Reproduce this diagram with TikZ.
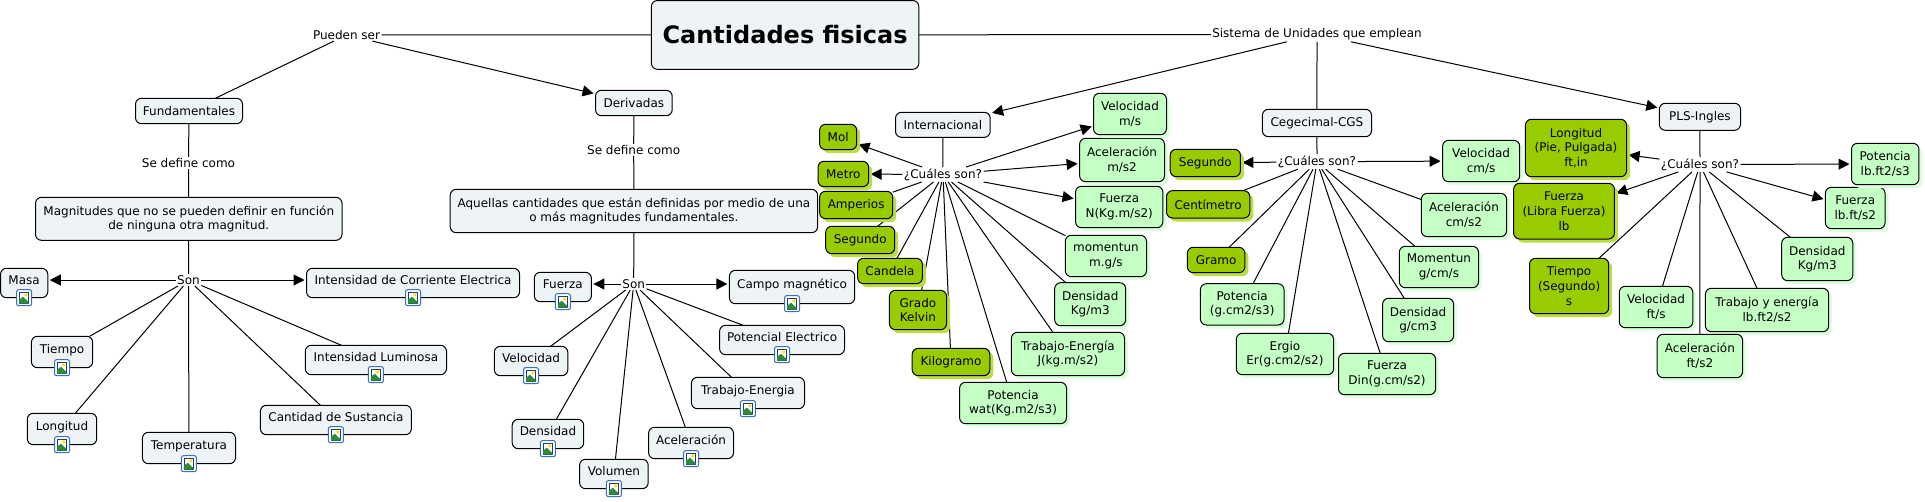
\documentclass[tikz,border=0pt]{standalone}
\usepackage{fontspec}
\setmainfont{DejaVu Sans}
\usetikzlibrary{arrows.meta,shadows}
\pgfdeclarelayer{bg}
\pgfsetlayers{bg,main}
\definecolor{boxfill}{HTML}{EEF4F6}
\definecolor{greenfill}{HTML}{C4FFC4}
\definecolor{greenshadow}{HTML}{DDFFDD}
\definecolor{olivefill}{HTML}{99CC00}
\definecolor{oliveshadow}{HTML}{BBDD44}
\definecolor{iconblue}{HTML}{3A6FC4}
\definecolor{iconsky}{HTML}{1F3A7A}
\definecolor{iconhill}{HTML}{2E8B3A}
\tikzset{
  base/.style={draw=black,line width=1pt,rounded corners=6pt,inner sep=0pt,outer sep=0pt,align=center,
    font=\fontsize{12}{14.6}\selectfont,text=black},
  plain/.style={base,fill=boxfill},
  withicon/.style={base,fill=boxfill,text depth=5.5pt,text height=8.5pt},
  title/.style={base,fill=boxfill,font=\fontsize{24}{28}\selectfont\bfseries},
  gbox/.style={base,fill=greenfill,copy shadow={shadow xshift=3.5pt,shadow yshift=-3.5pt,draw=none,fill=greenshadow}},
  obox/.style={base,fill=olivefill,copy shadow={shadow xshift=3.5pt,shadow yshift=-3.5pt,draw=none,fill=oliveshadow}},
  lab/.style={inner sep=1.5pt,outer sep=0pt,align=center,font=\fontsize{12}{14.6}\selectfont,text=black},
  link/.style={draw=black,line width=1pt},
  arrowlink/.style={link,-{Triangle[length=11pt,width=11pt]},shorten >=2pt},
  imgicon/.pic={
    \draw[draw=iconblue,fill=white,line width=1pt,rounded corners=2pt] (-7.5,-8) rectangle (7.5,8);
    \fill[iconsky] (-5,-6) rectangle (5,6);
    \fill[white] (-4,-5) rectangle (4,3);
    \fill[yellow!85!orange] (1.8,-2.8) circle (1.8);
    \fill[iconhill] (-5,6) -- (-5,2) -- (-1,-1) -- (5,5) -- (5,6) -- cycle;
  }
}
\newcommand\bx[7]{%
  \pgfmathsetmacro\cx{(#3+#5)/2}\pgfmathsetmacro\cy{(#4+#6)/2}%
  \pgfmathsetmacro\bw{#5-#3}\pgfmathsetmacro\bh{#6-#4}%
  \node[#1,minimum width=\bw pt,minimum height=\bh pt] (#2) at (\cx,\cy) {#7};}
\newcommand\ibx[6]{\bx{withicon}{#1}{#2}{#3}{#4}{#5}{#6}\pic at (#1.south) {imgicon};}
\begin{document}
\begin{tikzpicture}[x=1pt,y=-1pt]
\useasboundingbox (0,0) rectangle (1925,501);
% centre
\bx{title}{root}{651.4}{0.5}{918.8}{69.3}{Cantidades fisicas}
\node[lab] (pueden) at (346.5,35) {Pueden ser};
\node[lab] (sistema) at (1317,34.5) {Sistema de Unidades que emplean};
% left branch
\bx{plain}{fund}{135.5}{98.3}{242.5}{123.7}{Fundamentales}
\node[lab] (def1) at (188.5,163) {Se define como};
\bx{plain}{magn}{35.5}{197.3}{342}{240.3}{Magnitudes que no se pueden definir en función\\de ninguna otra magnitud.}
\node[lab] (son1) at (188.5,280) {Son};
\ibx{masa}{0.5}{268.3}{47.8}{297.7}{Masa}
\ibx{corr}{306.5}{268.3}{519.6}{297.7}{Intensidad de Corriente Electrica}
\ibx{tiem}{31.4}{336.3}{92.7}{367.7}{Tiempo}
\ibx{lumi}{305.3}{345.3}{446.5}{374.7}{Intensidad Luminosa}
\ibx{long}{27.3}{413.3}{96.7}{444.7}{Longitud}
\ibx{temp}{142.4}{432.3}{235.5}{463.7}{Temperatura}
\ibx{sust}{260.4}{405.3}{411.4}{434.7}{Cantidad de Sustancia}
% derived
\bx{plain}{deriv}{595.5}{90.3}{672.2}{115.7}{Derivadas}
\node[lab] (def2) at (633.7,150) {Se define como};
\bx{plain}{aque}{450.2}{189.3}{817.6}{232.7}{Aquellas cantidades que están definidas por medio de una\\o más magnitudes fundamentales.}
\node[lab] (son2) at (633.7,284) {Son};
\ibx{fuer}{534.3}{272.3}{591.4}{301.7}{Fuerza}
\ibx{velo}{494.3}{346.3}{567.8}{375.7}{Velocidad}
\ibx{dens}{512.2}{419.3}{583.7}{448.7}{Densidad}
\ibx{volu}{579.6}{459.3}{648.2}{488.7}{Volumen}
\ibx{camp}{729.4}{270.3}{854.7}{303.7}{Campo magnético}
\ibx{pote}{719.6}{325.3}{844.5}{354.7}{Potencial Electrico}
\ibx{trab}{691.4}{377.3}{804.5}{408.7}{Trabajo-Energia}
\ibx{acel}{648.6}{427.3}{733.5}{458.7}{Aceleración}
% Internacional
\bx{plain}{inter}{895.5}{112.3}{990.2}{137.3}{Internacional}
\node[lab] (cua1) at (943,174.5) {¿Cuáles son?};
\bx{obox}{mol}{819.6}{124.3}{856.7}{149.7}{Mol}
\bx{obox}{metro}{818}{161.3}{868.6}{186.7}{Metro}
\bx{obox}{amp}{819.6}{191.3}{892.7}{218.7}{Amperios}
\bx{obox}{segu}{825.7}{226.3}{894.7}{253.7}{Segundo}
\bx{obox}{cand}{857.6}{258.3}{922.4}{283.7}{Candela}
\bx{obox}{grado}{889.4}{290.3}{946.5}{329.7}{Grado\\Kelvin}
\bx{obox}{kilo}{912.2}{348.3}{989.8}{375.7}{Kilogramo}
\bx{gbox}{potw}{959.6}{382.3}{1066.5}{423.7}{Potencia\\wat(Kg.m2/s3)}
\bx{gbox}{traj}{1011.4}{332.3}{1124.5}{375.7}{Trabajo-Energía\\J(kg.m/s2)}
\bx{gbox}{denk}{1054.7}{282.7}{1125.7}{325.7}{Densidad\\Kg/m3}
\bx{gbox}{mome}{1065.3}{235.3}{1146.5}{276.7}{momentun\\m.g/s}
\bx{gbox}{fuen}{1075.5}{186.3}{1162.9}{227.7}{Fuerza\\N(Kg.m/s2)}
\bx{gbox}{acem}{1079.6}{138.3}{1164.5}{181.7}{Aceleración\\m/s2}
\bx{gbox}{velm}{1093.5}{93.3}{1166.5}{134.7}{Velocidad\\m/s}
% CGS
\bx{plain}{cgs}{1262.4}{109.3}{1371.5}{136.7}{Cegecimal-CGS}
\node[lab] (cua2) at (1317,161.7) {¿Cuáles son?};
\bx{obox}{segc}{1170.2}{149.3}{1240.4}{176.7}{Segundo}
\bx{obox}{cent}{1166.5}{190.7}{1249.8}{218}{Centímetro}
\bx{obox}{gram}{1187.3}{247.3}{1244.9}{272.7}{Gramo}
\bx{gbox}{potc}{1200.4}{283.7}{1284}{325}{Potencia\\(g.cm2/s3)}
\bx{gbox}{ergi}{1236.3}{333.3}{1333.6}{374.7}{Ergio\\Er(g.cm2/s2)}
\bx{gbox}{fued}{1338.5}{353.3}{1435.6}{394.7}{Fuerza\\Din(g.cm/s2)}
\bx{gbox}{denc}{1382.6}{298.3}{1453.6}{341.7}{Densidad\\g/cm3}
\bx{gbox}{momc}{1399.3}{246.3}{1478.5}{287.7}{Momentun\\g/cm/s}
\bx{gbox}{acec}{1421.3}{193.3}{1506.6}{236.7}{Aceleración\\cm/s2}
\bx{gbox}{velc}{1442.6}{140.3}{1519.7}{181.7}{Velocidad\\cm/s}
% PLS
\bx{plain}{pls}{1659.3}{103.3}{1740.5}{130.3}{PLS-Ingles}
\node[lab] (cua3) at (1700,164.5) {¿Cuáles son?};
\bx{obox}{lonp}{1525.4}{119.3}{1626.6}{176.7}{Longitud\\(Pie, Pulgada)\\ft,in}
\bx{obox}{fuel}{1513.6}{183.3}{1614.4}{239}{Fuerza\\(Libra Fuerza)\\lb}
\bx{obox}{tiep}{1529.5}{258.3}{1608.7}{313.7}{Tiempo\\(Segundo)\\s}
\bx{gbox}{velf}{1619.3}{286.3}{1692.8}{327.7}{Velocidad\\ft/s}
\bx{gbox}{trae}{1705.4}{288.3}{1828.7}{331.7}{Trabajo y energía\\lb.ft2/s2}
\bx{gbox}{acef}{1657.2}{334.3}{1742.6}{377.7}{Aceleración\\ft/s2}
\bx{gbox}{denf}{1781.7}{237.3}{1852.8}{280.7}{Densidad\\Kg/m3}
\bx{gbox}{fuef}{1825.4}{187.3}{1885}{228.7}{Fuerza\\lb.ft/s2}
\bx{gbox}{potl}{1851.5}{143.3}{1918.9}{184.7}{Potencia\\lb.ft2/s3}
% connectors
\begin{pgfonlayer}{bg}
\foreach \a/\b in {root/pueden,root/sistema,pueden/fund,fund/def1,def1/magn,magn/son1,
  son1/tiem,son1/long,son1/temp,son1/sust,son1/lumi,
  deriv/def2,def2/aque,aque/son2,son2/velo,son2/dens,son2/volu,son2/acel,son2/trab,son2/pote,
  sistema/cgs,inter/cua1,cgs/cua2,pls/cua3,
  cua1/amp,cua1/segu,cua1/cand,cua1/grado,cua1/kilo,cua1/potw,cua1/traj,cua1/denk,cua1/mome,
  cua2/cent,cua2/gram,cua2/potc,cua2/ergi,cua2/fued,cua2/denc,cua2/momc,cua2/acec,
  cua3/tiep,cua3/velf,cua3/acef,cua3/trae,cua3/denf}
  \draw[link] (\a) -- (\b);
\foreach \a/\b in {pueden/deriv,sistema/inter,sistema/pls,
  cua1/mol,cua1/metro,cua1/velm,cua1/acem,cua1/fuen,
  cua2/segc,cua2/velc,
  cua3/lonp,cua3/fuel,cua3/potl,cua3/fuef}
  \draw[arrowlink] (\a) -- (\b);
\draw[arrowlink] (son1) -- (son1 -| masa.east);
\draw[arrowlink] (son1) -- (son1 -| corr.west);
\draw[arrowlink] (son2) -- (son2 -| fuer.east);
\draw[arrowlink] (son2) -- (son2 -| camp.west);
\end{pgfonlayer}
\end{tikzpicture}
\end{document}
